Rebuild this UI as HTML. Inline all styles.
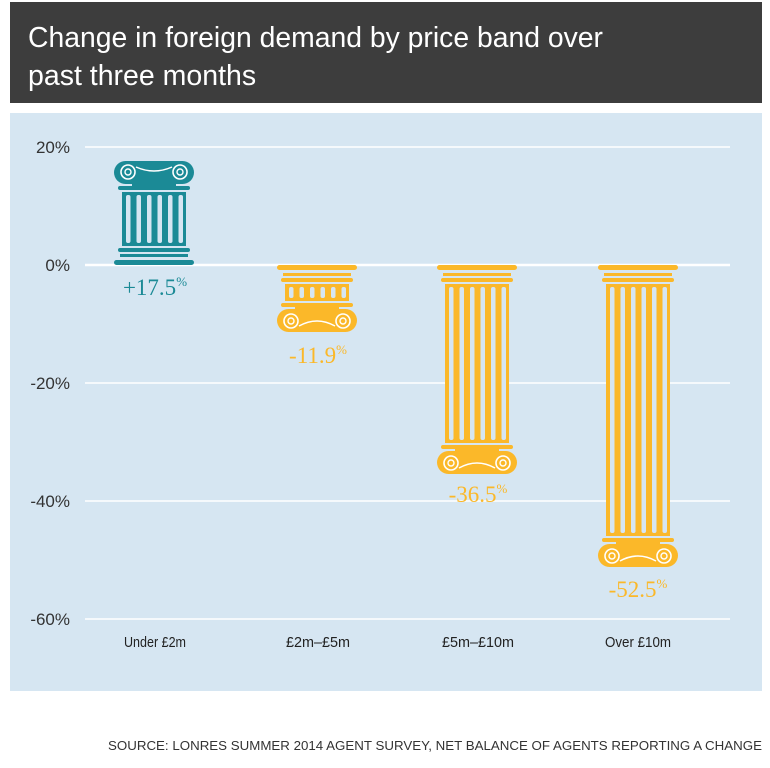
<!DOCTYPE html>
<html><head><meta charset="utf-8"><style>
body{margin:0;background:#fff;width:770px;height:768px;overflow:hidden}
svg{display:block}
</style></head><body>
<svg width="770" height="768" xmlns="http://www.w3.org/2000/svg">
<defs>
<g id="vol">
<circle r="7" fill="none" stroke="#fff" stroke-width="1.6"/>
<circle r="3" fill="none" stroke="#fff" stroke-width="1.4"/>
</g>
</defs>
<rect x="10" y="2" width="752" height="101" fill="#3d3d3d"/>
<text x="28" y="47" fill="#fff" font-family="Liberation Sans, sans-serif" font-size="28.5" textLength="575" lengthAdjust="spacingAndGlyphs">Change in foreign demand by price band over</text>
<text x="28" y="85" fill="#fff" font-family="Liberation Sans, sans-serif" font-size="28.5">past three months</text>
<rect x="10" y="113" width="752" height="578" fill="#d6e6f2"/>
<g stroke="#fff" stroke-width="1.5">
<line x1="85" y1="147" x2="730" y2="147"/>
<line x1="85" y1="383" x2="730" y2="383"/>
<line x1="85" y1="501" x2="730" y2="501"/>
<line x1="85" y1="619" x2="730" y2="619"/>
<line x1="85" y1="265" x2="730" y2="265" stroke-width="2.5"/>
</g>
<g font-family="Liberation Sans, sans-serif" font-size="17" fill="#333" text-anchor="end">
<text x="70" y="153">20%</text>
<text x="70" y="271">0%</text>
<text x="70" y="389">-20%</text>
<text x="70" y="507">-40%</text>
<text x="70" y="625">-60%</text>
</g>
<g fill="#1b8a96">
<rect x="114" y="260" width="80" height="5" rx="2.5"/>
<rect x="120" y="254" width="68" height="3"/>
<rect x="118" y="248" width="72" height="4" rx="2"/>
<rect x="122" y="192" width="64" height="54"/>
<rect x="118" y="186" width="72" height="4" rx="2"/>
<rect x="132" y="181" width="44" height="6"/>
<rect x="114" y="161" width="80" height="23" rx="11.5"/>
</g>
<g fill="#d6e6f2">
<rect x="126" y="195" width="4.5" height="48" rx="2"/><rect x="136.5" y="195" width="4.5" height="48" rx="2"/><rect x="147" y="195" width="4.5" height="48" rx="2"/><rect x="157.5" y="195" width="4.5" height="48" rx="2"/><rect x="168" y="195" width="4.5" height="48" rx="2"/><rect x="178.5" y="195" width="4.5" height="48" rx="2"/>
</g>
<use href="#vol" x="128" y="172"/><use href="#vol" x="180" y="172"/>
<path d="M136 167 Q154 175 172 167" fill="none" stroke="#fff" stroke-width="1.5"/>
<g fill="#fbb829">
<rect x="277" y="265" width="80" height="5" rx="2.5"/><rect x="283" y="273" width="68" height="3"/><rect x="281" y="278" width="72" height="4" rx="2"/>
<rect x="285" y="284" width="64" height="17"/><rect x="281" y="303" width="72" height="4" rx="2"/><rect x="295" y="305" width="44" height="6"/><rect x="277" y="309" width="80" height="23" rx="11.5"/>
<rect x="437" y="265" width="80" height="5" rx="2.5"/><rect x="443" y="273" width="68" height="3"/><rect x="441" y="278" width="72" height="4" rx="2"/>
<rect x="445" y="284" width="64" height="159"/><rect x="441" y="445" width="72" height="4" rx="2"/><rect x="455" y="447" width="44" height="6"/><rect x="437" y="451" width="80" height="23" rx="11.5"/>
<rect x="598" y="265" width="80" height="5" rx="2.5"/><rect x="604" y="273" width="68" height="3"/><rect x="602" y="278" width="72" height="4" rx="2"/>
<rect x="606" y="284" width="64" height="252"/><rect x="602" y="538" width="72" height="4" rx="2"/><rect x="616" y="540" width="44" height="6"/><rect x="598" y="544" width="80" height="23" rx="11.5"/>
</g>
<g fill="#d6e6f2">
<rect x="289" y="287" width="4.5" height="11" rx="2"/><rect x="299.5" y="287" width="4.5" height="11" rx="2"/><rect x="310" y="287" width="4.5" height="11" rx="2"/><rect x="320.5" y="287" width="4.5" height="11" rx="2"/><rect x="331" y="287" width="4.5" height="11" rx="2"/><rect x="341.5" y="287" width="4.5" height="11" rx="2"/>
<rect x="449" y="287" width="4.5" height="153" rx="2"/><rect x="459.5" y="287" width="4.5" height="153" rx="2"/><rect x="470" y="287" width="4.5" height="153" rx="2"/><rect x="480.5" y="287" width="4.5" height="153" rx="2"/><rect x="491" y="287" width="4.5" height="153" rx="2"/><rect x="501.5" y="287" width="4.5" height="153" rx="2"/>
<rect x="610" y="287" width="4.5" height="246" rx="2"/><rect x="620.5" y="287" width="4.5" height="246" rx="2"/><rect x="631" y="287" width="4.5" height="246" rx="2"/><rect x="641.5" y="287" width="4.5" height="246" rx="2"/><rect x="652" y="287" width="4.5" height="246" rx="2"/><rect x="662.5" y="287" width="4.5" height="246" rx="2"/>
</g>
<use href="#vol" x="291" y="321"/><use href="#vol" x="343" y="321"/>
<path d="M299 326 Q317 316 335 326" fill="none" stroke="#fff" stroke-width="1.5"/>
<use href="#vol" x="451" y="463"/><use href="#vol" x="503" y="463"/>
<path d="M459 468 Q477 458 495 468" fill="none" stroke="#fff" stroke-width="1.5"/>
<use href="#vol" x="612" y="556"/><use href="#vol" x="664" y="556"/>
<path d="M620 561 Q638 551 656 561" fill="none" stroke="#fff" stroke-width="1.5"/>
<g font-family="Liberation Serif, serif" font-size="23" text-anchor="middle">
<text x="155" y="295" fill="#1b8a96">+17.5<tspan font-size="13" dy="-9">%</tspan></text>
<text x="318" y="363" fill="#fbb829">-11.9<tspan font-size="13" dy="-9">%</tspan></text>
<text x="478" y="502" fill="#fbb829">-36.5<tspan font-size="13" dy="-9">%</tspan></text>
<text x="638" y="597" fill="#fbb829">-52.5<tspan font-size="13" dy="-9">%</tspan></text>
</g>
<g font-family="Liberation Sans, sans-serif" font-size="15" fill="#222" text-anchor="middle">
<text x="155" y="647" textLength="62" lengthAdjust="spacingAndGlyphs">Under £2m</text>
<text x="318" y="647" textLength="64" lengthAdjust="spacingAndGlyphs">£2m–£5m</text>
<text x="478" y="647" textLength="72" lengthAdjust="spacingAndGlyphs">£5m–£10m</text>
<text x="638" y="647" textLength="66" lengthAdjust="spacingAndGlyphs">Over £10m</text>
</g>
<text x="762" y="750" text-anchor="end" font-family="Liberation Sans, sans-serif" font-size="13" fill="#333" textLength="654" lengthAdjust="spacingAndGlyphs">SOURCE: LONRES SUMMER 2014 AGENT SURVEY, NET BALANCE OF AGENTS REPORTING A CHANGE</text>
</svg>
</body></html>
